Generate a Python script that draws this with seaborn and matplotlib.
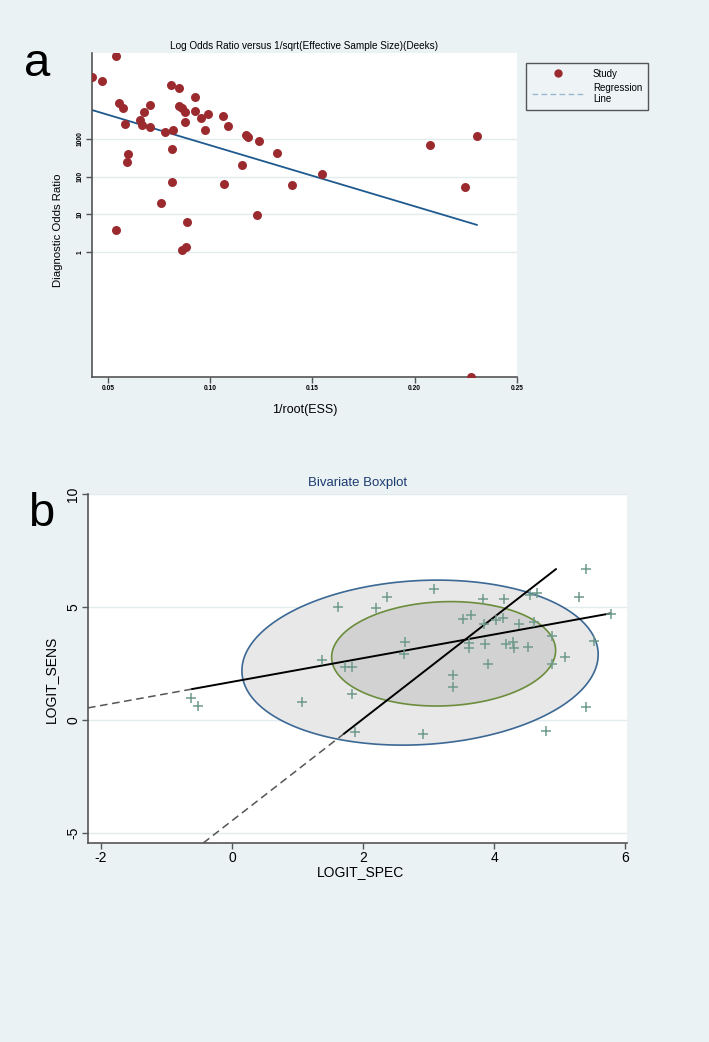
import numpy as np
import pandas as pd
import seaborn as sns
import matplotlib.pyplot as plt
from matplotlib.lines import Line2D

# ---- panel a: Deeks funnel plot ----
inv_root_ess = [0.0420, 0.0471, 0.0540, 0.0552, 0.0573, 0.0583, 0.0596, 0.0593, 0.0674, 0.0705,
                0.0658, 0.0666, 0.0708, 0.0780, 0.0809, 0.0848, 0.0818, 0.0815, 0.0813, 0.0759,
                0.0845, 0.0861, 0.0877, 0.0877, 0.0928, 0.0928, 0.0955, 0.0991, 0.0975, 0.1061,
                0.1089, 0.1154, 0.1066, 0.1173, 0.1184, 0.1238, 0.1328, 0.1399, 0.1545, 0.2077,
                0.2246, 0.2305, 0.0540, 0.0885, 0.1227, 0.0862, 0.0881, 0.2276]
log10_dor = [4.63, 4.53, 5.21, 3.95, 3.81, 3.40, 2.59, 2.40, 3.71, 3.89,
             3.50, 3.36, 3.32, 3.17, 4.43, 4.34, 3.24, 2.74, 1.85, 1.29,
             3.86, 3.81, 3.72, 3.46, 4.11, 3.73, 3.56, 3.66, 3.24, 3.62,
             3.34, 2.31, 1.79, 3.11, 3.05, 2.94, 2.63, 1.77, 2.07, 2.83,
             1.73, 3.09, 0.57, 0.80, 0.98, 0.04, 0.14, -3.32]
reg_intercept = 4.45
reg_slope = -16.2
dor_ticks = [0, 1, 2, 3]
dor_labels = ["1", "10", "100", "1000"]
ess_ticks = [0.05, 0.10, 0.15, 0.20, 0.25]

# ---- panel b: bivariate boxplot ----
logit_spec = [5.40, 5.29, 5.78, 3.08, 2.36, 1.61, 2.20, 3.83, 4.15, 4.55, 4.65, 3.52, 3.65, 3.85, 4.03,
              4.14, 4.38, 4.61, 4.89, 5.53, 2.64, 2.62, 3.61, 3.61, 3.86, 4.18, 4.29, 4.30, 4.52, 5.08,
              3.90, 3.37, 3.37, 1.73, 1.83, 4.89, 1.38, 1.83, 1.88, 2.92, 4.80, 5.41, -0.62, -0.52, 1.07]
logit_sens = [6.68, 5.43, 4.69, 5.78, 5.46, 4.99, 4.97, 5.34, 5.37, 5.52, 5.62, 4.48, 4.63, 4.25, 4.42,
              4.50, 4.23, 4.34, 3.72, 3.48, 3.46, 2.92, 3.42, 3.20, 3.36, 3.35, 3.44, 3.20, 3.24, 2.79,
              2.49, 2.00, 1.45, 2.36, 2.33, 2.48, 2.64, 1.15, -0.54, -0.62, -0.49, 0.59, 0.96, 0.63, 0.78]
sens_on_spec = [1.69, 0.524]    # intercept, slope
spec_on_sens = [-4.45, 2.25]    # as y = a + b*x
# centre x, centre y, half width, half height, phase (deg)
outer_ellipse = [2.87, 2.54, 2.72, 3.65, 84.4]
inner_ellipse = [3.23, 2.93, 1.71, 2.31, 86.3]

sns.set_theme(style="white")
plt.rcParams["font.family"] = ["Liberation Sans", "DejaVu Sans"]
plt.rcParams["text.color"] = "black"
plt.rcParams["axes.labelcolor"] = "black"
plt.rcParams["xtick.color"] = "black"
plt.rcParams["ytick.color"] = "black"

bg = "#eaf2f3"
axcol = "#555555"
fig = plt.figure(figsize=(7.09, 10.42), dpi=100, facecolor=bg)

# ---------- panel a ----------
ax1 = fig.add_axes([92 / 709, 1 - 377 / 1042, 425 / 709, 324 / 1042])
ax1.set_facecolor("white")
df_a = pd.DataFrame({"x": inv_root_ess, "y": log10_dor})
sns.scatterplot(data=df_a, x="x", y="y", ax=ax1, color="#9b2a2f", s=42,
                linewidth=0, zorder=3, legend=False)
xr = np.array([min(inv_root_ess), max(inv_root_ess)])
ax1.plot(xr, reg_intercept + reg_slope * xr, color="#1f5a8f", lw=1.3, zorder=2)

ax1.set_xlim(0.0422, 0.25)
ax1.set_ylim(-3.32, 5.28)
ax1.set_xticks(ess_ticks)
ax1.set_xticklabels([f"{t:.2f}" for t in ess_ticks], fontsize=4.8, fontweight="bold")
ax1.set_yticks(dor_ticks)
ax1.set_yticklabels(dor_labels, fontsize=4.8, rotation=90, va="center", fontweight="bold")
ax1.yaxis.grid(True, color="#e2ebee", lw=1)
ax1.xaxis.grid(False)
for s in ["top", "right"]:
    ax1.spines[s].set_visible(False)
for s in ["left", "bottom"]:
    ax1.spines[s].set_color(axcol)
    ax1.spines[s].set_linewidth(1.2)
ax1.tick_params(direction="out", length=4, width=1, color=axcol, pad=2,
                left=True, bottom=True)
ax1.set_title("Log Odds Ratio versus 1/sqrt(Effective Sample Size)(Deeks)",
              fontsize=7.2, pad=3, color="black")
ax1.set_xlabel("1/root(ESS)", fontsize=9)
ax1.set_ylabel("Diagnostic Odds Ratio", fontsize=8.2)
ax1.xaxis.set_label_coords(0.50, -0.083)
ax1.yaxis.set_label_coords(-0.068, 0.454)

handles = [Line2D([], [], marker="o", ls="none", color="#9b2a2f", markersize=5),
           Line2D([], [], ls=(0, (4, 2.5)), color="#9ab6d0", lw=1)]
fig.legend(handles, ["Study", "Regression\nLine"], loc="upper left",
           bbox_to_anchor=(521 / 709, 1 - 58 / 1042), frameon=True, fancybox=False,
           edgecolor=axcol, facecolor="#eef4f6", fontsize=7, handlelength=5.5,
           labelspacing=0.4, borderpad=0.6, framealpha=1)

# ---------- panel b ----------
ax2 = fig.add_axes([88 / 709, 1 - 843 / 1042, 539 / 709, 349 / 1042])
ax2.set_facecolor("white")
t = np.linspace(0, 2 * np.pi, 200)
for (cx, cy, a, b, d), fill, edge in [(outer_ellipse, "#e8e8e8", "#3b6894"),
                                      (inner_ellipse, "#d2d2d2", "#6b8d3c")]:
    ex = cx + a * np.cos(t)
    ey = cy + b * np.cos(t - np.radians(d))
    ax2.fill(ex, ey, facecolor=fill, edgecolor=edge, lw=1.2, zorder=1)

xlo, xhi = -2.2, 6.03
ylo, yhi = -5.44, 10
a1, b1 = sens_on_spec
xs = np.array([min(logit_spec), max(logit_spec)])
ax2.plot(xs, a1 + b1 * xs, color="black", lw=1.4, zorder=3)
xd = np.array([xlo, min(logit_spec)])
ax2.plot(xd, a1 + b1 * xd, color="#555555", lw=1.1, ls=(0, (5, 3)), zorder=3)

a2, b2 = spec_on_sens
ys = np.array([min(logit_sens), max(logit_sens)])
ax2.plot((ys - a2) / b2, ys, color="black", lw=1.4, zorder=3)
yd = np.array([ylo, min(logit_sens)])
ax2.plot((yd - a2) / b2, yd, color="#555555", lw=1.1, ls=(0, (5, 3)), zorder=3)

df_b = pd.DataFrame({"spec": logit_spec, "sens": logit_sens})
sns.scatterplot(data=df_b, x="spec", y="sens", ax=ax2, marker="+", color="#6f9a8b",
                s=45, linewidth=1.1, zorder=4, legend=False)

ax2.set_xlim(xlo, xhi)
ax2.set_ylim(ylo, yhi)
ax2.set_xticks([-2, 0, 2, 4, 6])
ax2.set_yticks([-5, 0, 5, 10])
ax2.set_xticklabels(["-2", "0", "2", "4", "6"], fontsize=10)
ax2.set_yticklabels(["-5", "0", "5", "10"], fontsize=10, rotation=90, va="center")
ax2.yaxis.grid(True, color="#e2ebee", lw=1)
ax2.xaxis.grid(False)
for s in ["top", "right"]:
    ax2.spines[s].set_visible(False)
for s in ["left", "bottom"]:
    ax2.spines[s].set_color(axcol)
    ax2.spines[s].set_linewidth(1.2)
ax2.tick_params(direction="out", length=4, width=1, color=axcol, pad=1.5,
                left=True, bottom=True)
ax2.set_title("Bivariate Boxplot", fontsize=9.5, color="#1c3b6f", pad=6)
ax2.set_xlabel("LOGIT_SPEC", fontsize=10)
ax2.set_ylabel("LOGIT_SENS", fontsize=10)
ax2.xaxis.set_label_coords(0.505, -0.062)
ax2.yaxis.set_label_coords(-0.056, 0.47)

fig.text(37 / 709, 1 - 76 / 1042, "a", fontsize=34, ha="center", va="baseline", color="black")
fig.text(41 / 709, 1 - 526 / 1042, "b", fontsize=34, ha="center", va="baseline", color="black")

fig.savefig("out.png", dpi=100, facecolor=bg)
